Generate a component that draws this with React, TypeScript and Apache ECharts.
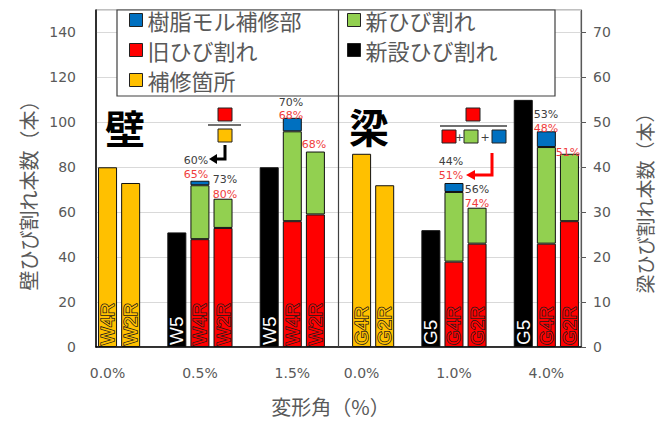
import React, { useEffect, useRef } from 'react';
import * as echarts from 'echarts';

const _ = null;

// 21 category slots (empty slots separate the groups)
const slotLabels = ['0.0%', '', '', '', '0.5%', '', '', '', '1.5%', '', '', '0.0%', '', '', '', '1.0%', '', '', '', '4.0%', ''];
const barNames = ['W4R', 'W2R', '', 'W5', 'W4R', 'W2R', '', 'W5', 'W4R', 'W2R', '', 'G4R', 'G2R', '', 'G5', 'G4R', 'G2R', '', 'G5', 'G4R', 'G2R'];

// Wall (left axis)
const wallRepairSites = [80, 73, _, _, _, _, _, _, _, _, _, _, _, _, _, _, _, _, _, _, _];
const wallNewBuild = [_, _, _, 51, _, _, _, 80, _, _, _, _, _, _, _, _, _, _, _, _, _];
const wallOld = [_, _, _, _, 48, 53, _, _, 56, 59, _, _, _, _, _, _, _, _, _, _, _];
const wallNew = [_, _, _, _, 24, 13, _, _, 40, 28, _, _, _, _, _, _, _, _, _, _, _];
const wallResin = [_, _, _, _, 2, _, _, _, 6, _, _, _, _, _, _, _, _, _, _, _, _];

// Beam (right axis)
const beamRepairSites = [_, _, _, _, _, _, _, _, _, _, _, 43, 36, _, _, _, _, _, _, _, _];
const beamNewBuild = [_, _, _, _, _, _, _, _, _, _, _, _, _, _, 26, _, _, _, 55, _, _];
const beamOld = [_, _, _, _, _, _, _, _, _, _, _, _, _, _, _, 19, 23, _, _, 23, 28];
const beamNew = [_, _, _, _, _, _, _, _, _, _, _, _, _, _, _, 15.5, 8, _, _, 21.5, 15];
const beamResin = [_, _, _, _, _, _, _, _, _, _, _, _, _, _, _, 2, _, _, _, 3.5, _];

const leftTicks = { min: 0, max: 150, interval: 20 };
const rightTicks = { min: 0, max: 75, interval: 10 };

const C = {
  resin: '#0070C0',
  old: '#FF0000',
  site: '#FFC000',
  fresh: '#92D050',
  build: '#000000',
};

const JP = '"Noto Sans CJK JP", sans-serif';
const NUM = '"DejaVu Sans", sans-serif';

function labelCfg(fill: string, border: boolean) {
  return {
    show: true,
    position: 'insideBottom',
    rotate: 90,
    align: 'left',
    verticalAlign: 'middle',
    distance: 2,
    fontFamily: '"Liberation Sans", Arial, sans-serif',
    fontSize: 19,
    color: fill,
    textBorderColor: border ? '#1a1a1a' : 'transparent',
    textBorderWidth: border ? 1.5 : 0,
    formatter: (p: any) => barNames[p.dataIndex],
  };
}

function bar(name: string, data: any[], color: string, yAxisIndex: number, stack: string, label?: any, extra?: any) {
  return {
    type: 'bar',
    name,
    data,
    yAxisIndex,
    stack,
    barWidth: 19,
    barGap: '-100%',
    itemStyle: { color, borderColor: '#111', borderWidth: 1 },
    label: label || { show: false },
    emphasis: { disabled: true },
    ...(extra || {}),
  };
}

function pct(text: string, x: number, y: number, red: boolean) {
  return {
    type: 'text',
    x,
    y,
    z: 10,
    style: {
      text,
      fill: red ? '#f03c3c' : '#404040',
      font: '11px ' + NUM,
      textAlign: 'center',
      textVerticalAlign: 'middle',
      align: 'center',
      verticalAlign: 'middle',
    },
  };
}

function sq(x: number, y: number, fill: string) {
  return {
    type: 'rect',
    z: 10,
    shape: { x, y, width: 14, height: 13 },
    style: { fill, stroke: '#222', lineWidth: 1 },
  };
}

const graphics: any[] = [
  // legend frame
  {
    type: 'rect',
    z: 3,
    shape: { x: 117, y: 10, width: 438, height: 86 },
    style: { fill: '#fff', stroke: '#404040', lineWidth: 1.2 },
  },
  // big labels
  {
    type: 'text', x: 125, y: 127, z: 10,
    style: { text: '壁', font: 'bold 40px ' + JP, fill: '#000', textAlign: 'center', textVerticalAlign: 'middle', align: 'center', verticalAlign: 'middle' },
  },
  {
    type: 'text', x: 369, y: 126, z: 10,
    style: { text: '梁', font: 'bold 40px ' + JP, fill: '#000', textAlign: 'center', textVerticalAlign: 'middle', align: 'center', verticalAlign: 'middle' },
  },
  // wall fraction diagram
  sq(218, 108, C.old),
  { type: 'line', z: 10, shape: { x1: 208, y1: 125, x2: 241, y2: 125 }, style: { stroke: '#404040', lineWidth: 1.5 } },
  sq(218, 129, C.site),
  { type: 'polyline', z: 10, shape: { points: [[225, 145], [225, 159], [216, 159]] }, style: { stroke: '#000', lineWidth: 3, fill: null } },
  { type: 'polygon', z: 10, shape: { points: [[209, 159], [217, 154], [217, 164]] }, style: { fill: '#000' } },
  // beam fraction diagram
  sq(466, 108, C.old),
  { type: 'line', z: 10, shape: { x1: 440, y1: 126, x2: 507, y2: 126 }, style: { stroke: '#404040', lineWidth: 1.5 } },
  sq(442, 130, C.old),
  sq(464, 130, C.fresh),
  sq(492, 130, C.resin),
  {
    type: 'text', x: 459.5, y: 137, z: 10,
    style: { text: '+', font: '11px ' + NUM, fill: '#404040', textAlign: 'center', textVerticalAlign: 'middle', align: 'center', verticalAlign: 'middle' },
  },
  {
    type: 'text', x: 485, y: 137, z: 10,
    style: { text: '+', font: '11px ' + NUM, fill: '#404040', textAlign: 'center', textVerticalAlign: 'middle', align: 'center', verticalAlign: 'middle' },
  },
  { type: 'polyline', z: 10, shape: { points: [[492, 153], [492, 175], [474, 175]] }, style: { stroke: '#ff0000', lineWidth: 3, fill: null } },
  { type: 'polygon', z: 10, shape: { points: [[466, 175], [475, 170], [475, 180]] }, style: { fill: '#ff0000' } },
  // percentages
  pct('60%', 196, 160, false),
  pct('65%', 196, 174, true),
  pct('73%', 225, 179, false),
  pct('80%', 225, 194, true),
  pct('70%', 291, 102, false),
  pct('68%', 291, 115, true),
  pct('68%', 314, 144, true),
  pct('44%', 451, 161, false),
  pct('51%', 451, 175, true),
  pct('56%', 477, 189, false),
  pct('74%', 477, 203, true),
  pct('53%', 546, 114, false),
  pct('48%', 546, 128, true),
  pct('51%', 568, 152, true),
];

const legendCommon = {
  orient: 'vertical',
  top: 0,
  itemGap: 0,
  itemWidth: 13,
  itemHeight: 13,
  icon: 'rect',
  selectedMode: false,
  z: 5,
  itemStyle: { borderColor: '#222', borderWidth: 1 },
  textStyle: { fontSize: 22, color: '#595959', fontFamily: JP, lineHeight: 30 },
};

const option: any = {
  animation: false,
  backgroundColor: '#fff',
  textStyle: { fontFamily: JP },
  grid: {
    left: 96,
    right: 85,
    top: 10,
    bottom: 67,
    show: true,
    borderColor: '#808080',
    borderWidth: 1,
  },
  legend: [
    { ...legendCommon, left: 124, data: ['樹脂モル補修部', '旧ひび割れ', '補修箇所'] },
    { ...legendCommon, left: 342, data: ['新ひび割れ', '新設ひび割れ'] },
  ],
  xAxis: {
    type: 'category',
    data: slotLabels.map((s, i) => 'slot' + i),
    axisLine: { show: true, lineStyle: { color: '#000', width: 1.5 } },
    axisTick: { show: false },
    axisLabel: {
      interval: 0,
      formatter: (_v: string, i: number) => slotLabels[i],
      color: '#595959',
      fontFamily: NUM,
      fontSize: 14,
      margin: 19,
    },
    name: '変形角（%）',
    nameLocation: 'middle',
    nameGap: 49,
    nameTextStyle: { fontSize: 20, color: '#595959', fontFamily: JP, padding: [0, 16, 0, 0] },
  },
  yAxis: [
    {
      type: 'value',
      ...leftTicks,
      position: 'left',
      axisLine: { show: true, lineStyle: { color: '#000', width: 1.5 } },
      axisTick: { show: false },
      axisLabel: { color: '#595959', fontFamily: NUM, fontSize: 14, margin: 20, showMaxLabel: false },
      splitLine: { show: true, lineStyle: { color: '#d9d9d9', width: 1 } },
      name: '壁ひび割れ本数（本）',
      nameLocation: 'middle',
      nameRotate: 90,
      nameGap: 52,
      nameTextStyle: { fontSize: 20, color: '#595959', fontFamily: JP, padding: [0, 24, 0, 0] },
    },
    {
      type: 'value',
      ...rightTicks,
      position: 'right',
      axisLine: { show: true, lineStyle: { color: '#595959', width: 1.2 } },
      axisTick: { show: true, length: 5, lineStyle: { color: '#595959' } },
      axisLabel: { color: '#595959', fontFamily: NUM, fontSize: 14, margin: 12, showMaxLabel: false },
      splitLine: { show: false },
      name: '梁ひび割れ本数（本）',
      nameLocation: 'middle',
      nameRotate: 90,
      nameGap: 54,
      nameTextStyle: { fontSize: 19, color: '#595959', fontFamily: JP, padding: [0, 40, 0, 0] },
    },
  ],
  series: [
    bar('補修箇所', wallRepairSites, C.site, 0, 'wall', labelCfg(C.site, true), {
      markLine: {
        silent: true,
        symbol: ['none', 'none'],
        label: { show: false },
        lineStyle: { color: '#404040', type: 'solid', width: 1.2 },
        data: [{ xAxis: 10 }],
      },
    }),
    bar('新設ひび割れ', wallNewBuild, C.build, 0, 'wall', labelCfg('#fff', false)),
    bar('旧ひび割れ', wallOld, C.old, 0, 'wall', labelCfg(C.old, true)),
    bar('新ひび割れ', wallNew, C.fresh, 0, 'wall'),
    bar('樹脂モル補修部', wallResin, C.resin, 0, 'wall'),
    bar('補修箇所', beamRepairSites, C.site, 1, 'beam', labelCfg(C.site, true)),
    bar('新設ひび割れ', beamNewBuild, C.build, 1, 'beam', labelCfg('#fff', false)),
    bar('旧ひび割れ', beamOld, C.old, 1, 'beam', labelCfg(C.old, true)),
    bar('新ひび割れ', beamNew, C.fresh, 1, 'beam'),
    bar('樹脂モル補修部', beamResin, C.resin, 1, 'beam'),
  ],
  graphic: { elements: graphics },
};

export default function App() {
  const ref = useRef<HTMLDivElement>(null);
  useEffect(() => {
    const chart = echarts.init(ref.current!, null, { renderer: 'svg' });
    chart.setOption(option);
    return () => chart.dispose();
  }, []);
  return (
    <div
      ref={ref}
      style={{ position: 'fixed', left: 0, top: 0, width: 666, height: 421, background: '#fff' }}
    />
  );
}
